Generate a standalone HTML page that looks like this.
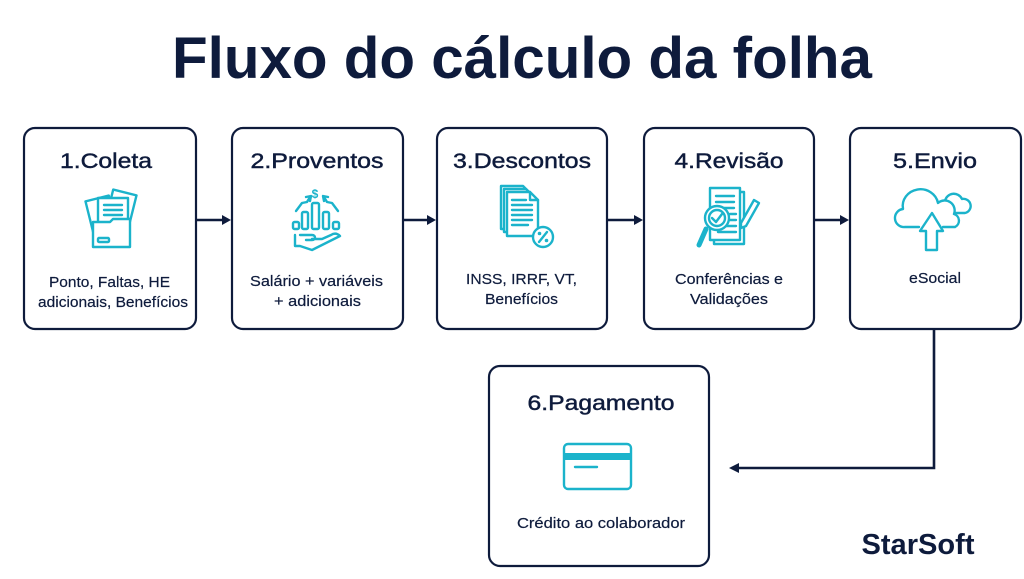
<!DOCTYPE html>
<html><head><meta charset="utf-8"><style>
html,body{margin:0;padding:0;background:#fff;width:1024px;height:579px;overflow:hidden}
svg{display:block}
text{font-family:"Liberation Sans",sans-serif;fill:#0e1b3c}
.h{font-size:21px;stroke:#0e1b3c;stroke-width:0.45}
.b{font-size:15px;stroke:#0e1b3c;stroke-width:0.2}
.ic{fill:none;stroke:#1bb3cb;stroke-width:2.4;stroke-linejoin:round;stroke-linecap:round}
.icw{fill:#fff;stroke:#1bb3cb;stroke-width:2.4;stroke-linejoin:round;stroke-linecap:round}
.bx{fill:#fff;stroke:#0e1b3c;stroke-width:2.2}
.ln{fill:none;stroke:#0e1b3c;stroke-width:2.6}
</style></head><body>
<svg width="1024" height="579" viewBox="0 0 1024 579" xmlns="http://www.w3.org/2000/svg">
<rect width="1024" height="579" fill="#fff"/>
<!-- Title -->
<text x="522" y="78" text-anchor="middle" font-size="58" font-weight="bold" textLength="700" lengthAdjust="spacingAndGlyphs">Fluxo do cálculo da folha</text>

<!-- Boxes -->
<rect class="bx" x="24" y="128" width="172" height="201" rx="11"/>
<rect class="bx" x="232" y="128" width="171" height="201" rx="11"/>
<rect class="bx" x="437" y="128" width="170" height="201" rx="11"/>
<rect class="bx" x="644" y="128" width="170" height="201" rx="11"/>
<rect class="bx" x="850" y="128" width="171" height="201" rx="11"/>
<rect class="bx" x="489" y="366" width="220" height="200" rx="11"/>

<!-- Arrows -->
<line class="ln" x1="196" y1="220" x2="224" y2="220"/><path d="M222 215 L231 220 L222 225 Z" fill="#0e1b3c"/>
<line class="ln" x1="403" y1="220" x2="429" y2="220"/><path d="M427 215 L436 220 L427 225 Z" fill="#0e1b3c"/>
<line class="ln" x1="607" y1="220" x2="636" y2="220"/><path d="M634 215 L643 220 L634 225 Z" fill="#0e1b3c"/>
<line class="ln" x1="814" y1="220" x2="842" y2="220"/><path d="M840 215 L849 220 L840 225 Z" fill="#0e1b3c"/>
<path class="ln" d="M934 329 V468 H737"/><path d="M739 463 L729 468 L739 473 Z" fill="#0e1b3c"/>

<!-- Headings -->
<text class="h" x="106" y="168" text-anchor="middle" textLength="92" lengthAdjust="spacingAndGlyphs">1.Coleta</text>
<text class="h" x="317" y="168" text-anchor="middle" textLength="133" lengthAdjust="spacingAndGlyphs">2.Proventos</text>
<text class="h" x="522" y="168" text-anchor="middle" textLength="138" lengthAdjust="spacingAndGlyphs">3.Descontos</text>
<text class="h" x="729" y="168" text-anchor="middle" textLength="109" lengthAdjust="spacingAndGlyphs">4.Revisão</text>
<text class="h" x="935" y="168" text-anchor="middle" textLength="84" lengthAdjust="spacingAndGlyphs">5.Envio</text>
<text class="h" x="601" y="410" text-anchor="middle" textLength="147" lengthAdjust="spacingAndGlyphs">6.Pagamento</text>

<!-- Body text -->
<text class="b" x="109.5" y="287" text-anchor="middle" textLength="121" lengthAdjust="spacingAndGlyphs">Ponto, Faltas, HE</text>
<text class="b" x="113" y="307" text-anchor="middle" textLength="150" lengthAdjust="spacingAndGlyphs">adicionais, Benefícios</text>
<text class="b" x="316.5" y="286" text-anchor="middle" textLength="133" lengthAdjust="spacingAndGlyphs">Salário + variáveis</text>
<text class="b" x="317.5" y="306" text-anchor="middle" textLength="87" lengthAdjust="spacingAndGlyphs">+ adicionais</text>
<text class="b" x="521.5" y="284" text-anchor="middle" textLength="111" lengthAdjust="spacingAndGlyphs">INSS, IRRF, VT,</text>
<text class="b" x="521.5" y="304" text-anchor="middle" textLength="73" lengthAdjust="spacingAndGlyphs">Benefícios</text>
<text class="b" x="729" y="284" text-anchor="middle" textLength="108" lengthAdjust="spacingAndGlyphs">Conferências e</text>
<text class="b" x="729" y="304" text-anchor="middle" textLength="78" lengthAdjust="spacingAndGlyphs">Validações</text>
<text class="b" x="935" y="283" text-anchor="middle" textLength="52" lengthAdjust="spacingAndGlyphs">eSocial</text>
<text class="b" x="601" y="528" text-anchor="middle" textLength="168" lengthAdjust="spacingAndGlyphs">Crédito ao colaborador</text>

<!-- Logo -->
<text x="918" y="554" text-anchor="middle" font-size="29" font-weight="bold" textLength="113" lengthAdjust="spacingAndGlyphs">StarSoft</text>

<!-- Icon 1: folder -->
<g>
<rect class="icw" x="89" y="198" width="24" height="32" transform="rotate(-14 101 214)"/>
<rect class="icw" x="109" y="192" width="24" height="32" transform="rotate(14 121 208)"/>
<rect class="icw" x="98" y="198" width="30" height="30"/>
<line class="ic" x1="104" y1="205" x2="122" y2="205"/>
<line class="ic" x1="104" y1="210" x2="122" y2="210"/>
<line class="ic" x1="104" y1="215" x2="122" y2="215"/>
<path class="icw" d="M93 222 H110 L113 219 H130 V247 H93 Z"/>
<rect class="ic" x="98" y="238" width="11" height="4" rx="1"/>
</g>

<!-- Icon 2: growth hand -->
<g>
<text x="315" y="198" text-anchor="middle" font-size="12" font-weight="bold" style="fill:#1bb3cb">$</text>
<path class="ic" d="M296 211 L302 203 L307 202 L310 197"/>
<path class="ic" d="M306 197 L311 196 L310 201"/>
<path class="ic" d="M338 211 L332 203 L327 202 L324 197"/>
<path class="ic" d="M328 197 L323 196 L324 201"/>
<rect class="ic" x="293" y="222" width="6" height="7" rx="1.5"/>
<rect class="ic" x="302" y="212" width="6" height="17" rx="1.5"/>
<rect class="ic" x="312" y="203" width="7" height="26" rx="1.5"/>
<rect class="ic" x="323" y="212" width="6" height="17" rx="1.5"/>
<rect class="ic" x="333" y="222" width="6" height="7" rx="1.5"/>
<path class="ic" d="M295 235 V246 H300 L312 250 L340 236 C337 233 334 233 331 235 L322 239 H312 M300 235 H312 C316 235 316 240 312 240 H306"/>
</g>

<!-- Icon 3: documents with percent -->
<g>
<path class="icw" d="M501 186 H523 L530 193 V229 H501 Z"/>
<path class="icw" d="M504 189 H526 L533 196 V232 H504 Z"/>
<path class="icw" d="M507 192 H530 L538 200 V236 H507 Z"/>
<path class="ic" d="M530 192 V200 H538"/>
<line class="ic" x1="512" y1="200" x2="526" y2="200"/>
<line class="ic" x1="512" y1="205" x2="532" y2="205"/>
<line class="ic" x1="512" y1="210" x2="532" y2="210"/>
<line class="ic" x1="512" y1="215" x2="532" y2="215"/>
<line class="ic" x1="512" y1="220" x2="532" y2="220"/>
<line class="ic" x1="512" y1="225" x2="528" y2="225"/>
<circle class="icw" cx="543" cy="237" r="10"/>
<line class="ic" x1="547" y1="232" x2="539" y2="242"/>
<circle cx="539.5" cy="233.5" r="1.8" fill="#1bb3cb"/>
<circle cx="546.5" cy="240.5" r="1.8" fill="#1bb3cb"/>
</g>

<!-- Icon 4: review -->
<g>
<path class="icw" d="M714 192 H744 V244 H714 Z"/>
<path class="icw" d="M710 188 H740 V240 H710 Z"/>
<line class="ic" x1="716" y1="196" x2="734" y2="196"/>
<line class="ic" x1="716" y1="202" x2="734" y2="202"/>
<line class="ic" x1="722" y1="208" x2="734" y2="208"/>
<line class="ic" x1="730" y1="214" x2="736" y2="214"/>
<line class="ic" x1="730" y1="220" x2="736" y2="220"/>
<line class="ic" x1="726" y1="226" x2="736" y2="226"/>
<line class="ic" x1="718" y1="232" x2="736" y2="232"/>
<path class="icw" d="M754 200 L759 203 L746 226 L741 228 L741 223 Z"/>
<line x1="706" y1="229" x2="699" y2="245" stroke="#1bb3cb" stroke-width="5" stroke-linecap="round"/>
<circle class="icw" cx="717" cy="218" r="12"/>
<circle class="ic" cx="717" cy="218" r="8"/>
<path class="ic" d="M712 218 L716 222 L722 214"/>
</g>

<!-- Icon 5: cloud upload -->
<g>
<path class="icw" d="M945 201 A9 9 0 0 1 962 199 A7 7 0 0 1 965 213 H950"/>
<path class="icw" d="M919 227 H905 A9 9 0 0 1 903 209 A17 16 0 0 1 938 203 A10 10 0 0 1 954 214 A7 7 0 0 1 955 227 H943"/>
<path class="icw" d="M932 213 L943 231 H937 V250 H926 V231 H920 Z"/>
</g>

<!-- Icon 6: card -->
<g>
<rect class="ic" x="564" y="444" width="67" height="45" rx="4"/>
<rect x="565" y="453" width="65" height="7" fill="#1bb3cb"/>
<line class="ic" x1="575" y1="467" x2="597" y2="467"/>
</g>
</svg>
</body></html>
